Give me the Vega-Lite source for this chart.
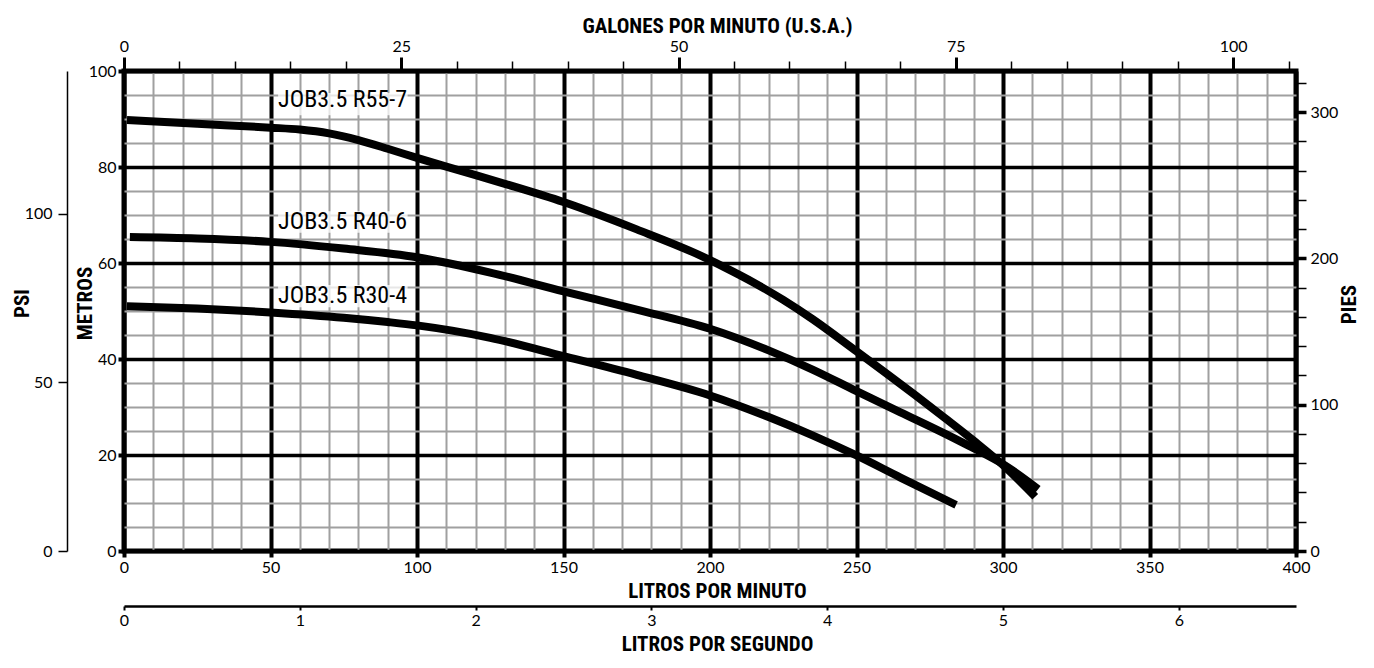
{
  "$schema": "https://vega.github.io/schema/vega-lite/v6.json",
  "width": 1172,
  "height": 480,
  "autosize": {"type": "none"},
  "padding": {"left": 124, "top": 71, "right": 78, "bottom": 117},
  "background": "white",
  "config": {
    "view": {"stroke": "black", "strokeWidth": 5},
    "axis": {
      "labelFont": "Lato",
      "labelFontSize": 16,
      "labelColor": "black",
      "titleFont": "Liberation Sans Narrow, Roboto Condensed, DejaVu Sans Condensed, sans-serif",
      "titleFontSize": 21,
      "titleFontWeight": "bold",
      "titleColor": "black",
      "tickColor": "black",
      "domainColor": "black",
      "labelFlush": false,
      "labelOverlap": false
    }
  },
  "datasets": {
    "curves": [
      {"model": "R55-7", "lpm": 1, "m": 89.8},
      {"model": "R55-7", "lpm": 25, "m": 89.0},
      {"model": "R55-7", "lpm": 50, "m": 88.2},
      {"model": "R55-7", "lpm": 60, "m": 87.8},
      {"model": "R55-7", "lpm": 70, "m": 87.0},
      {"model": "R55-7", "lpm": 80, "m": 85.6},
      {"model": "R55-7", "lpm": 90, "m": 83.8},
      {"model": "R55-7", "lpm": 100, "m": 81.9},
      {"model": "R55-7", "lpm": 115, "m": 79.2},
      {"model": "R55-7", "lpm": 130, "m": 76.5},
      {"model": "R55-7", "lpm": 150, "m": 72.7},
      {"model": "R55-7", "lpm": 175, "m": 67.0},
      {"model": "R55-7", "lpm": 196.6, "m": 61.6},
      {"model": "R55-7", "lpm": 205, "m": 59.1},
      {"model": "R55-7", "lpm": 215, "m": 55.9},
      {"model": "R55-7", "lpm": 225, "m": 52.3},
      {"model": "R55-7", "lpm": 235, "m": 48.3},
      {"model": "R55-7", "lpm": 250, "m": 41.6},
      {"model": "R55-7", "lpm": 260, "m": 37.1},
      {"model": "R55-7", "lpm": 270, "m": 32.5},
      {"model": "R55-7", "lpm": 280, "m": 27.8},
      {"model": "R55-7", "lpm": 290, "m": 23.0},
      {"model": "R55-7", "lpm": 300, "m": 17.9},
      {"model": "R55-7", "lpm": 311, "m": 11.3},
      {"model": "R40-6", "lpm": 2, "m": 65.4},
      {"model": "R40-6", "lpm": 25, "m": 65.1},
      {"model": "R40-6", "lpm": 50, "m": 64.4},
      {"model": "R40-6", "lpm": 75, "m": 63.0},
      {"model": "R40-6", "lpm": 100, "m": 61.2},
      {"model": "R40-6", "lpm": 112, "m": 59.8},
      {"model": "R40-6", "lpm": 125, "m": 58.0},
      {"model": "R40-6", "lpm": 150, "m": 54.1},
      {"model": "R40-6", "lpm": 175, "m": 50.3},
      {"model": "R40-6", "lpm": 200, "m": 46.3},
      {"model": "R40-6", "lpm": 220, "m": 41.8},
      {"model": "R40-6", "lpm": 235, "m": 37.8},
      {"model": "R40-6", "lpm": 250, "m": 33.3},
      {"model": "R40-6", "lpm": 265, "m": 28.9},
      {"model": "R40-6", "lpm": 281, "m": 24.2},
      {"model": "R40-6", "lpm": 290, "m": 21.4},
      {"model": "R40-6", "lpm": 300, "m": 18.1},
      {"model": "R40-6", "lpm": 312, "m": 12.9},
      {"model": "R30-4", "lpm": 1, "m": 51.0},
      {"model": "R30-4", "lpm": 25, "m": 50.5},
      {"model": "R30-4", "lpm": 50, "m": 49.7},
      {"model": "R30-4", "lpm": 75, "m": 48.6},
      {"model": "R30-4", "lpm": 90, "m": 47.7},
      {"model": "R30-4", "lpm": 100, "m": 47.0},
      {"model": "R30-4", "lpm": 112, "m": 45.9},
      {"model": "R30-4", "lpm": 125, "m": 44.4},
      {"model": "R30-4", "lpm": 150, "m": 40.6},
      {"model": "R30-4", "lpm": 175, "m": 36.7},
      {"model": "R30-4", "lpm": 200, "m": 32.4},
      {"model": "R30-4", "lpm": 220, "m": 27.9},
      {"model": "R30-4", "lpm": 235, "m": 24.1},
      {"model": "R30-4", "lpm": 250, "m": 19.9},
      {"model": "R30-4", "lpm": 265, "m": 15.3},
      {"model": "R30-4", "lpm": 284, "m": 9.6}
    ],
    "labels": [
      {"label": "JOB3.5 R55-7", "lpm": 52.6, "m": 93.9, "lpm2": 96.8, "m_lo": 90.8, "m_hi": 95.4},
      {"label": "JOB3.5 R40-6", "lpm": 52.6, "m": 68.5, "lpm2": 96.8, "m_lo": 66.3, "m_hi": 70.8},
      {"label": "JOB3.5 R30-4", "lpm": 52.6, "m": 53.1, "lpm2": 96.8, "m_lo": 50.8, "m_hi": 55.4}
    ]
  },
  "layer": [
    {
      "encoding": {
        "x": {
          "field": "lpm",
          "type": "quantitative",
          "scale": {"domain": [0, 400], "nice": false, "zero": false},
          "axis": {
            "orient": "bottom",
            "values": [0,10,20,30,40,50,60,70,80,90,100,110,120,130,140,150,160,170,180,190,200,210,220,230,240,250,260,270,280,290,300,310,320,330,340,350,360,370,380,390,400],
            "grid": true,
            "gridColor": {"condition": {"test": "datum.value % 50 === 0", "value": "black"}, "value": "#a0a0a0"},
            "gridWidth": {"condition": {"test": "datum.value % 50 === 0", "value": 4}, "value": 2},
            "domain": false,
            "tickOpacity": {"condition": {"test": "datum.value % 50 === 0", "value": 1}, "value": 0},
            "tickSize": 6,
            "tickWidth": 4,
            "labelExpr": "datum.value % 50 === 0 ? datum.label : ''",
            "labelPadding": 2,
            "title": "LITROS POR MINUTO",
            "titleX": 593,
            "titleY": 46,
            "titleAlign": "center",
            "titleBaseline": "alphabetic"
          }
        },
        "y": {
          "field": "m",
          "type": "quantitative",
          "scale": {"domain": [0, 100], "nice": false, "zero": false},
          "axis": {
            "orient": "left",
            "values": [0,5,10,15,20,25,30,35,40,45,50,55,60,65,70,75,80,85,90,95,100],
            "grid": true,
            "gridColor": {"condition": {"test": "datum.value % 20 === 0", "value": "black"}, "value": "#a0a0a0"},
            "gridWidth": {"condition": {"test": "datum.value % 20 === 0", "value": 3.5}, "value": 2},
            "domain": false,
            "tickOpacity": {"condition": {"test": "datum.value % 20 === 0", "value": 1}, "value": 0},
            "tickSize": 6,
            "tickWidth": 4,
            "labelExpr": "datum.value % 20 === 0 ? datum.label : ''",
            "labelPadding": 2,
            "title": "METROS",
            "titleAngle": 270,
            "titleX": -33,
            "titleY": 232,
            "titleAlign": "center",
            "titleBaseline": "alphabetic"
          }
        }
      },
      "layer": [
        {
          "data": {"name": "curves"},
          "mark": {"type": "line", "color": "black", "strokeWidth": 8, "strokeCap": "butt", "interpolate": "monotone"},
          "encoding": {"detail": {"field": "model"}}
        },
        {
          "data": {"name": "labels"},
          "mark": {"type": "rect", "color": "white", "opacity": 0.75},
          "encoding": {
            "x2": {"field": "lpm2"},
            "y": {"field": "m_lo", "type": "quantitative"},
            "y2": {"field": "m_hi"}
          }
        },
        {
          "data": {"name": "labels"},
          "mark": {"type": "text", "align": "left", "baseline": "middle", "font": "Liberation Sans Narrow, Roboto Condensed, DejaVu Sans Condensed, sans-serif", "fontSize": 24, "color": "black"},
          "encoding": {"text": {"field": "label"}}
        }
      ]
    },
    {
      "data": {"values": [{"gpm": 0}, {"gpm": 105.669}]},
      "mark": {"type": "point", "opacity": 0},
      "encoding": {
        "x": {
          "field": "gpm",
          "type": "quantitative",
          "scale": {"domain": [0, 105.669], "nice": false, "zero": false},
          "axis": {
            "orient": "top",
            "values": [0, 25, 50, 75, 100],
            "grid": false,
            "domain": false,
            "tickSize": 14,
            "tickWidth": 3,
            "labelPadding": 3,
            "title": "GALONES POR MINUTO (U.S.A.)",
            "titleX": 593,
            "titleY": -39,
            "titleAlign": "center",
            "titleBaseline": "alphabetic"
          }
        }
      }
    },
    {
      "data": {"values": [{"gpm_minor": 0}, {"gpm_minor": 105.669}]},
      "mark": {"type": "point", "opacity": 0},
      "encoding": {
        "x": {
          "field": "gpm_minor",
          "type": "quantitative",
          "scale": {"domain": [0, 105.669], "nice": false, "zero": false},
          "axis": {
            "orient": "top",
            "values": [0,5,10,15,20,25,30,35,40,45,50,55,60,65,70,75,80,85,90,95,100,105],
            "grid": false,
            "domain": false,
            "tickSize": 10,
            "tickWidth": 1.5,
            "labels": false,
            "title": null
          }
        }
      }
    },
    {
      "data": {"values": [{"lps": 0}, {"lps": 6.6667}]},
      "mark": {"type": "point", "opacity": 0},
      "encoding": {
        "x": {
          "field": "lps",
          "type": "quantitative",
          "scale": {"domain": [0, 6.6667], "nice": false, "zero": false},
          "axis": {
            "orient": "bottom",
            "offset": 55,
            "values": [0, 1, 2, 3, 4, 5, 6],
            "grid": false,
            "domain": true,
            "domainWidth": 2.5,
            "tickSize": 4,
            "tickWidth": 2,
            "labelPadding": 2,
            "title": "LITROS POR SEGUNDO",
            "titleX": 593,
            "titleY": 44,
            "titleAlign": "center",
            "titleBaseline": "alphabetic"
          }
        }
      }
    },
    {
      "data": {"values": [{"psi": 0}, {"psi": 142.233}]},
      "mark": {"type": "point", "opacity": 0},
      "encoding": {
        "y": {
          "field": "psi",
          "type": "quantitative",
          "scale": {"domain": [0, 142.233], "nice": false, "zero": false},
          "axis": {
            "orient": "left",
            "offset": 57,
            "values": [0, 50, 100],
            "grid": false,
            "domain": true,
            "domainWidth": 1.5,
            "tickSize": 9,
            "tickWidth": 1.5,
            "labelPadding": 6,
            "title": "PSI",
            "titleAngle": 270,
            "titleX": -39,
            "titleY": 232,
            "titleAlign": "center",
            "titleBaseline": "alphabetic"
          }
        }
      }
    },
    {
      "data": {"values": [{"ft": 0}, {"ft": 328.084}]},
      "mark": {"type": "point", "opacity": 0},
      "encoding": {
        "y": {
          "field": "ft",
          "type": "quantitative",
          "scale": {"domain": [0, 328.084], "nice": false, "zero": false},
          "axis": {
            "orient": "right",
            "values": [0,20,40,60,80,100,120,140,160,180,200,220,240,260,280,300,320],
            "grid": false,
            "domain": false,
            "tickSize": 10,
            "tickWidth": {"condition": {"test": "datum.value % 100 === 0", "value": 3.5}, "value": 1.5},
            "labelExpr": "datum.value % 100 === 0 ? datum.label : ''",
            "labelPadding": 4,
            "title": "PIES",
            "titleAngle": 270,
            "titleX": 59,
            "titleY": 233,
            "titleAlign": "center",
            "titleBaseline": "alphabetic"
          }
        }
      }
    }
  ],
  "resolve": {"scale": {"x": "independent", "y": "independent"}}
}
